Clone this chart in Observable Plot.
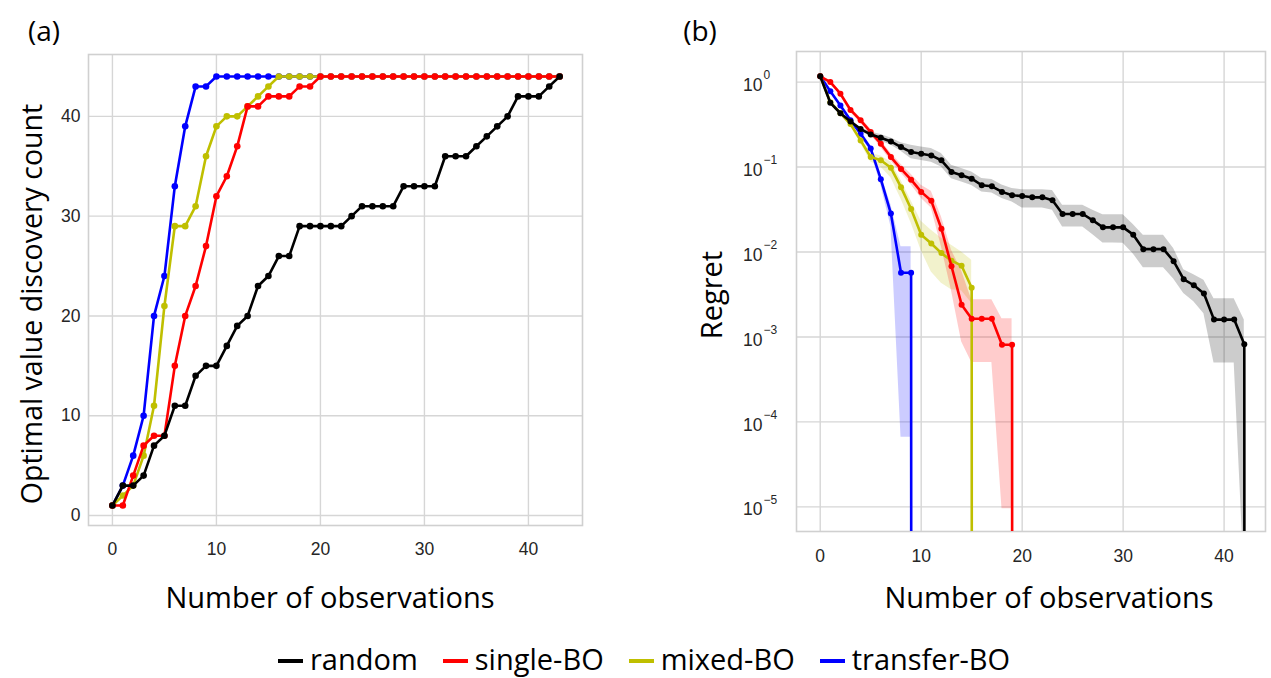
<!DOCTYPE html>
<html><head><meta charset="utf-8">
<script src="https://cdn.jsdelivr.net/npm/d3@7"></script>
<script src="https://cdn.jsdelivr.net/npm/@observablehq/plot@0.6"></script>
<style>
body{margin:0;background:#fff;}
#root{position:relative;width:1271px;height:678px;overflow:hidden;font-family:"Open Sans",sans-serif;color:#000;background:#fff;}
.lbl{position:absolute;white-space:nowrap;font-size:29px;line-height:1.2;transform:translate(-50%,-50%);}
.rot{transform:translate(-50%,-50%) rotate(-90deg);}
.panel{position:absolute;top:0;}
#legend{position:absolute;left:278px;top:642px;height:34px;display:flex;align-items:center;font-size:29px;line-height:1.15;white-space:nowrap;}
#legend .item{display:flex;align-items:center;margin-right:25px;}
#legend .sw{width:25px;height:4px;margin-right:7px;margin-top:3px;}
</style></head><body><div id="root"></div>
<script>
// ---------- data ----------
const seriesNames = ["random", "single-BO", "mixed-BO", "transfer-BO"];
const seriesColors = ["#000000", "#ff0000", "#bfbf00", "#0000ff"];

// Panel (a): optimal value discovery count vs number of observations (index = observation)
const randomCount = [1,3,3,4,7,8,11,11,14,15,15,17,19,20,23,24,26,26,29,29,29,29,29,30,31,31,31,31,33,33,33,33,36,36,36,37,38,39,40,42,42,42,43,44];
const singleCount = [1,1,4,7,8,8,15,20,23,27,32,34,37,41,41,42,42,42,43,43,44,44,44,44,44,44,44,44,44,44,44,44,44,44,44,44,44,44,44,44,44,44,44,44];
const mixedCount = [1,2,3,6,11,21,29,29,31,36,39,40,40,41,42,43,44,44,44,44,44,44,44,44,44,44,44,44,44,44,44,44,44,44,44,44,44,44,44,44,44,44,44,44];
const transferCount = [1,3,6,10,20,24,33,39,43,43,44,44,44,44,44,44,44,44,44,44,44,44,44,44,44,44,44,44,44,44,44,44,44,44,44,44,44,44,44,44,44,44,44,44];

// Panel (b): regret (line) with band (lower / upper), index = observation
const randomRegret = [1.17,0.57,0.43,0.344,0.28,0.242,0.221,0.2,0.172,0.15,0.143,0.137,0.12,0.0875,0.08,0.073,0.061,0.0593,0.051,0.0465,0.0456,0.044,0.044,0.0406,0.028,0.028,0.028,0.0236,0.0195,0.0195,0.0195,0.016,0.0108,0.0108,0.0108,0.0078,0.00477,0.00406,0.00324,0.0016,0.0016,0.0016,0.00082,0];
const randomUpper = [1.17,0.597,0.45,0.36,0.293,0.259,0.242,0.219,0.193,0.18,0.172,0.165,0.144,0.105,0.096,0.0877,0.0733,0.0713,0.0613,0.0559,0.054,0.054,0.054,0.053,0.0355,0.0355,0.0355,0.031,0.0275,0.0275,0.0275,0.021,0.0157,0.0157,0.0157,0.011,0.0062,0.0054,0.00464,0.00282,0.00282,0.00282,0.00158,0];
const randomLower = [1.17,0.544,0.41,0.328,0.267,0.226,0.2015,0.182,0.153,0.125,0.119,0.114,0.1,0.073,0.0666,0.0608,0.0508,0.0494,0.0425,0.0387,0.033,0.033,0.033,0.031,0.0197,0.0197,0.0197,0.016,0.0128,0.0128,0.0127,0.0095,0.00654,0.00654,0.00654,0.0048,0.00324,0.0026,0.00188,0.000494,0.000494,0.000494,0.0000015,0];

const singleRegret = [1.17,1.0,0.73,0.47,0.355,0.258,0.188,0.131,0.095,0.071,0.051,0.04,0.0188,0.0068,0.0024,0.00164,0.00164,0.00164,0.00081,0.00081,0];
const singleUpper = [1.17,1.05,0.77,0.5,0.38,0.28,0.205,0.145,0.108,0.082,0.061,0.052,0.026,0.0105,0.006,0.00275,0.00275,0.00275,0.00164,0.00164,0];
const singleLower = [1.17,0.95,0.69,0.44,0.33,0.24,0.17,0.118,0.085,0.062,0.043,0.033,0.0115,0.0035,0.00088,0.0005,0.0005,0.0005,0.0000095,0.0000095,0];

const mixedRegret = [1.17,0.58,0.43,0.32,0.206,0.131,0.12,0.098,0.058,0.032,0.016,0.0126,0.0097,0.0079,0.0069,0.0038,0];
const mixedUpper = [1.17,0.6,0.45,0.34,0.22,0.145,0.135,0.115,0.07,0.04,0.023,0.018,0.0145,0.012,0.01,0.008,0];
const mixedLower = [1.17,0.56,0.41,0.3,0.19,0.115,0.1,0.075,0.042,0.022,0.0104,0.0058,0.0043,0.0036,0.0035,0.0025,0];

const transferRegret = [1.17,0.78,0.53,0.355,0.247,0.165,0.072,0.0283,0.0057,0.0057,0];
const transferUpper = [1.17,0.81,0.55,0.375,0.265,0.18,0.082,0.036,0.0115,0.0115,0];
const transferLower = [1.17,0.75,0.51,0.335,0.23,0.15,0.062,0.02,0.000066,0.000066,0];

// ticks
const ticksAx = [0,10,20,30,40];
const ticksAy = [0,10,20,30,40];
const ticksBx = [0,10,20,30,40];
const ticksBy = [1,1e-1,1e-2,1e-3,1e-4,1e-5];
const ticksByExp = ["0","\u22121","\u22122","\u22123","\u22124","\u22125"];

// ---------- build ----------
const root = document.getElementById("root");
const countsA = [randomCount, singleCount, mixedCount, transferCount];
const regretB = [randomRegret, singleRegret, mixedRegret, transferRegret];
const upperB = [randomUpper, singleUpper, mixedUpper, transferUpper];
const lowerB = [randomLower, singleLower, mixedLower, transferLower];
const drawOrder = [3, 2, 1, 0];
// like matplotlib's log "clip": non-positive values sent far below the axis
const pos = v => v > 0 ? v : 1e-300;

const gridStyle = {stroke: "#d6d6d6", strokeOpacity: 1, strokeWidth: 1.4};
const tickFont = {fontFamily: "'Liberation Sans', Arial, sans-serif", fontSize: "17.5px", color: "#262626", background: "transparent", overflow: "visible"};

// Panel (a)
const marksA = [
  Plot.gridX(ticksAx, gridStyle),
  Plot.gridY(ticksAy, gridStyle),
  Plot.frame({stroke: "#d0d0d0", strokeWidth: 1.6}),
  Plot.axisX(ticksAx, {tickSize: 0, tickPadding: 17, label: null, fontSize: 17.5}),
  Plot.axisY(ticksAy, {tickSize: 0, tickPadding: 8, label: null, fontSize: 17.5})
];
for (const i of drawOrder) {
  const data = countsA[i].map((v, k) => ({x: k, y: v}));
  marksA.push(Plot.line(data, {x: "x", y: "y", stroke: seriesColors[i], strokeWidth: 2.6}));
  marksA.push(Plot.dot(data, {x: "x", y: "y", fill: seriesColors[i], r: 3.3}));
}
const plotA = Plot.plot({
  width: 620, height: 600,
  marginLeft: 88, marginRight: 38, marginTop: 54, marginBottom: 75,
  x: {domain: [-2.3, 45.2]},
  y: {domain: [-1.0, 46.2]},
  style: tickFont,
  marks: marksA
});
plotA.classList.add("panel");
plotA.style.left = "0px";
root.appendChild(plotA);

// Panel (b)
const marksB = [
  Plot.gridX(ticksBx, gridStyle),
  Plot.gridY(ticksBy, gridStyle),
  Plot.frame({stroke: "#d0d0d0", strokeWidth: 1.6}),
  Plot.axisX(ticksBx, {tickSize: 0, tickPadding: 18, label: null, fontSize: 17.5}),
  Plot.text(ticksBy, {y: d => d, text: () => "10", frameAnchor: "left", textAnchor: "end", dx: -34, dy: 3, fontSize: 17.5, fill: "#262626"}),
  Plot.text(ticksBy, {y: d => d, text: (d, i) => ticksByExp[i], frameAnchor: "left", textAnchor: "start", dx: -33, dy: -7, fontSize: 12, fill: "#262626"})
];
for (const i of drawOrder) {
  const data = regretB[i].map((v, k) => ({x: k, y: pos(v), lo: pos(lowerB[i][k]), hi: pos(upperB[i][k])}));
  marksB.push(Plot.areaY(data, {x: "x", y1: "lo", y2: "hi", fill: seriesColors[i], fillOpacity: 0.2, clip: true}));
}
for (const i of drawOrder) {
  const data = regretB[i].map((v, k) => ({x: k, y: pos(v)}));
  marksB.push(Plot.line(data, {x: "x", y: "y", stroke: seriesColors[i], strokeWidth: 2.6, clip: true}));
  marksB.push(Plot.dot(data, {x: "x", y: "y", fill: seriesColors[i], r: 3, clip: true}));
}
const plotB = Plot.plot({
  width: 571, height: 600,
  marginLeft: 96, marginRight: 6, marginTop: 51, marginBottom: 69,
  x: {domain: [-2.35, 44.1]},
  y: {type: "log", domain: [Math.pow(10, -5.29), Math.pow(10, 0.36)], axis: null},
  style: tickFont,
  marks: marksB
});
plotB.classList.add("panel");
plotB.style.left = "700px";
root.appendChild(plotB);

// Text labels
function addLabel(text, x, y, size, rot) {
  const d = document.createElement("div");
  d.className = "lbl" + (rot ? " rot" : "");
  d.textContent = text;
  d.style.left = x + "px";
  d.style.top = y + "px";
  d.style.fontSize = size + "px";
  root.appendChild(d);
}
addLabel("(a)", 44, 31, 28, false);
addLabel("(b)", 700, 31, 28, false);
addLabel("Optimal value discovery count", 31, 304, 28.5, true);
addLabel("Number of observations", 330, 597, 29, false);
addLabel("Regret", 711, 295, 29, true);
addLabel("Number of observations", 1049, 597, 29, false);

// Legend
const legend = document.createElement("div");
legend.id = "legend";
seriesNames.forEach((name, i) => {
  const it = document.createElement("div");
  it.className = "item";
  const sw = document.createElement("div");
  sw.className = "sw";
  sw.style.background = seriesColors[i];
  const tx = document.createElement("span");
  tx.textContent = name;
  it.appendChild(sw);
  it.appendChild(tx);
  legend.appendChild(it);
});
root.appendChild(legend);
</script></body></html>
